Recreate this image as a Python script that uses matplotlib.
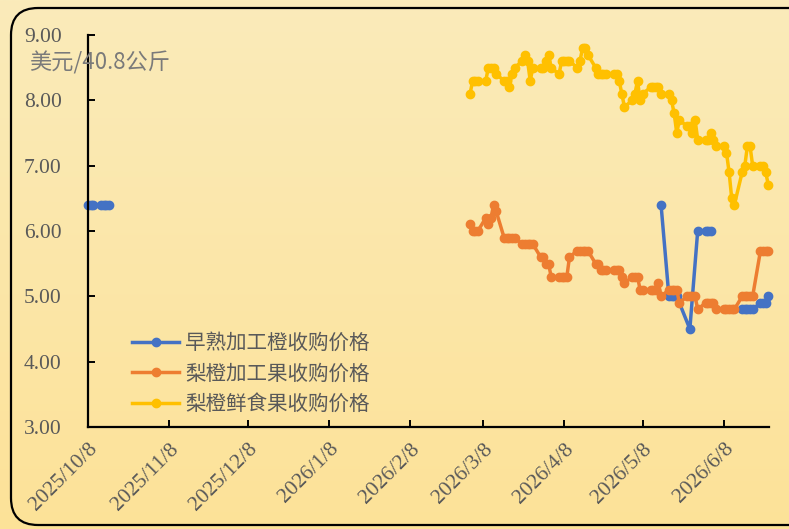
import numpy as np
import pandas as pd
import matplotlib
matplotlib.use('Agg')
import matplotlib.pyplot as plt
from matplotlib.patches import FancyBboxPatch

plt.rcParams['font.family'] = ['Noto Sans CJK SC', 'DejaVu Sans']

# 1. 数据
series_names = ['早熟加工橙收购价格', '梨橙加工果收购价格', '梨橙鲜食果收购价格']
series_colors = ['#4472C4', '#ED7D31', '#FFC000']

# 早熟加工橙 (None = 缺数据, 折线断开)
blue_dates = ['2025-10-08', '2025-10-09', '2025-10-10', '2025-10-13', '2025-10-14',
              '2025-10-15', '2025-10-16', '2025-10-17',
              '2026-05-15', '2026-05-18', '2026-05-19', '2026-05-20', '2026-05-21',
              '2026-05-26', '2026-05-29', '2026-06-01', '2026-06-02', '2026-06-03',
              '2026-06-04',
              '2026-06-15', '2026-06-16', '2026-06-17', '2026-06-18', '2026-06-19',
              '2026-06-22', '2026-06-23', '2026-06-24', '2026-06-25']
blue_vals = [6.4, 6.4, 6.4, 6.4, 6.4, 6.4, 6.4, None,
             6.4, 5.0, 5.0, 5.0, 5.0, 4.5, 6.0, 6.0, 6.0, 6.0, None,
             4.8, 4.8, 4.8, 4.8, 4.8, 4.9, 4.9, 4.9, 5.0]

# 梨橙两条线: 2026/3/3 - 2026/6/25 工作日
pear_dates = pd.bdate_range('2026-03-03', '2026-06-25')

orange_vals = [
    # 3月
    6.1, 6.0, 6.0, 6.0, 6.2, 6.1, 6.2, 6.4, 6.3, 5.9, 5.9, 5.9, 5.9, 5.9,
    5.8, 5.8, 5.8, 5.8, 5.8, 5.6, 5.6,
    # 4月
    5.5, 5.5, 5.3, 5.3, 5.3, 5.3, 5.3, 5.6, 5.7, 5.7, 5.7, 5.7, 5.7, 5.5,
    5.5, 5.4, 5.4, 5.4, 5.4, 5.4, 5.4, 5.3,
    # 5月
    5.2, 5.3, 5.3, 5.3, 5.1, 5.1, 5.1, 5.1, 5.1, 5.2, 5.0, 5.1, 5.1, 5.1,
    5.1, 4.9, 5.0, 5.0, 5.0, 5.0, 4.8,
    # 6月
    4.9, 4.9, 4.9, 4.9, 4.8, 4.8, 4.8, 4.8, 4.8, 4.8, 5.0, 5.0, 5.0, 5.0,
    5.0, 5.7, 5.7, 5.7, 5.7]

yellow_vals = [
    # 3月
    8.1, 8.3, 8.3, 8.3, 8.3, 8.5, 8.5, 8.5, 8.4, 8.3, 8.3, 8.2, 8.4, 8.5,
    8.6, 8.7, 8.6, 8.3, 8.5, 8.5, 8.5,
    # 4月
    8.6, 8.7, 8.5, 8.4, 8.6, 8.6, 8.6, 8.6, 8.5, 8.6, 8.8, 8.8, 8.7, 8.5,
    8.4, 8.4, 8.4, 8.4, 8.4, 8.4, 8.3, 8.1,
    # 5月
    7.9, 8.0, 8.1, 8.3, 8.0, 8.1, 8.2, 8.2, 8.2, 8.2, 8.1, 8.1, 8.0, 7.8,
    7.5, 7.7, 7.6, 7.6, 7.5, 7.7, 7.4,
    # 6月
    7.4, 7.4, 7.5, 7.4, 7.3, 7.3, 7.2, 6.9, 6.5, 6.4, 6.9, 7.0, 7.3, 7.3,
    7.0, 7.0, 7.0, 6.9, 6.7]

tick_labels = ['2025/10/8', '2025/11/8', '2025/12/8', '2026/1/8', '2026/2/8',
               '2026/3/8', '2026/4/8', '2026/5/8', '2026/6/8']
y_ticks = [3, 4, 5, 6, 7, 8, 9]
unit_label = '美元/40.8公斤'

# 2. 画布 + 渐变背景
fig = plt.figure(figsize=(7.89, 5.29), dpi=100)
bg = fig.add_axes([0, 0, 1, 1], zorder=-10)
top_c = np.array([250, 235, 186]) / 255
bot_c = np.array([253, 226, 152]) / 255
t = np.linspace(0, 1, 256)[:, None]
grad = top_c[None, :] * (1 - t) + bot_c[None, :] * t
bg.imshow(grad[:, None, :], aspect='auto', extent=[0, 1, 0, 1])
bg.set_axis_off()

# 圆角边框
fig.patches.append(FancyBboxPatch((0.11, 0.04), 8.3, 5.17,
                                  boxstyle='round,pad=0,rounding_size=0.27',
                                  transform=fig.dpi_scale_trans,
                                  facecolor='none', edgecolor='black', lw=1.6))

# 3. 折线
ax = fig.add_axes([88 / 789, 1 - 427 / 529, (769 - 88) / 789, (427 - 35) / 529])
ax.set_facecolor('none')

ax.plot(pd.to_datetime(blue_dates), np.array(blue_vals, dtype=float),
        color=series_colors[0], lw=2.5, marker='o', ms=6, label=series_names[0],
        clip_on=False)
ax.plot(pear_dates, orange_vals, color=series_colors[1], lw=2.5, marker='o', ms=6,
        label=series_names[1], clip_on=False)
ax.plot(pear_dates, yellow_vals, color=series_colors[2], lw=2.5, marker='o', ms=6,
        label=series_names[2], clip_on=False)

# 4. 坐标轴
ax.set_ylim(3, 9)
ax.set_yticks(y_ticks)
ax.set_yticklabels(['%.2f' % v for v in y_ticks])
tick_dates = pd.to_datetime(tick_labels, format='%Y/%m/%d')
ax.set_xlim(pd.Timestamp('2025-10-08'), pd.Timestamp('2026-06-25 06:00'))
ax.set_xticks(tick_dates)
ax.set_xticklabels(tick_labels, rotation=45, ha='right', va='top', rotation_mode='anchor')

for s in ['top', 'right']:
    ax.spines[s].set_visible(False)
for s in ['left', 'bottom']:
    ax.spines[s].set_linewidth(1.6)
ax.tick_params(axis='both', direction='in', length=5, width=1.4, colors='black',
               labelcolor='#595959')
ax.tick_params(axis='y', pad=19)
ax.tick_params(axis='x', pad=9)
for lab in ax.get_xticklabels() + ax.get_yticklabels():
    lab.set_fontfamily('Liberation Serif')
    lab.set_fontsize(15.5)

fig.text(29 / 789, 1 - 63 / 529, unit_label, fontsize=16, color='#7a7a7a',
         va='center', ha='left')

ax.legend(loc='upper left', bbox_to_anchor=(132 / 789, 1 - 332 / 529),
          bbox_transform=fig.transFigure, frameon=False, fontsize=14.8,
          labelcolor='#595959', handlelength=2.3, handletextpad=0.3,
          labelspacing=0.42, borderpad=0, borderaxespad=0)

fig.savefig('out.png', dpi=100)
